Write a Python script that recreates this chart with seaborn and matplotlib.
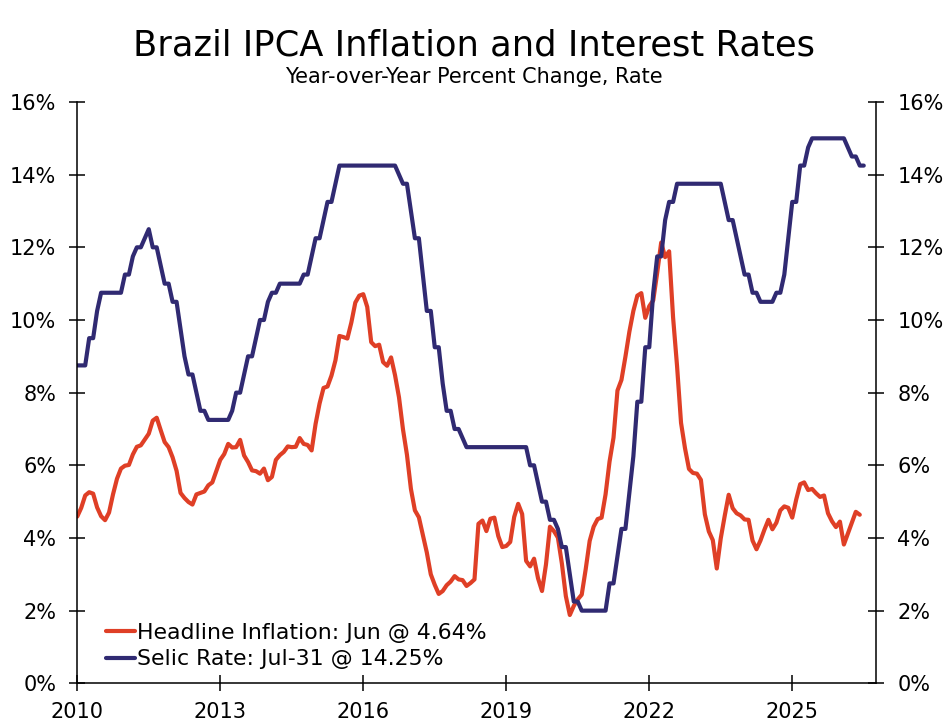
import numpy as np
import pandas as pd
import matplotlib
matplotlib.use("Agg")
import matplotlib.pyplot as plt
from matplotlib.ticker import FuncFormatter
import seaborn as sns

# monthly data, Jan-2010 onwards
START_YEAR = 2010

inflation = [
    4.59, 4.83, 5.17, 5.26, 5.22, 4.84, 4.60, 4.49, 4.70, 5.20, 5.63, 5.91,
    5.99, 6.01, 6.30, 6.51, 6.55, 6.71, 6.87, 7.23, 7.31, 6.97, 6.64, 6.50,
    6.22, 5.85, 5.24, 5.10, 4.99, 4.92, 5.20, 5.24, 5.28, 5.45, 5.53, 5.84,
    6.15, 6.31, 6.59, 6.49, 6.50, 6.70, 6.27, 6.09, 5.86, 5.84, 5.77, 5.91,
    5.59, 5.68, 6.15, 6.28, 6.37, 6.52, 6.50, 6.51, 6.75, 6.59, 6.56, 6.41,
    7.14, 7.70, 8.13, 8.17, 8.47, 8.89, 9.56, 9.53, 9.49, 9.93, 10.48, 10.67,
    10.71, 10.36, 9.39, 9.28, 9.32, 8.84, 8.74, 8.97, 8.48, 7.87, 6.99, 6.29,
    5.35, 4.76, 4.57, 4.08, 3.60, 3.00, 2.71, 2.46, 2.54, 2.70, 2.80, 2.95,
    2.86, 2.84, 2.68, 2.76, 2.86, 4.39, 4.48, 4.19, 4.53, 4.56, 4.05, 3.75,
    3.78, 3.89, 4.58, 4.94, 4.66, 3.37, 3.22, 3.43, 2.89, 2.54, 3.27, 4.31,
    4.19, 4.01, 3.30, 2.40, 1.88, 2.13, 2.31, 2.44, 3.14, 3.92, 4.31, 4.52,
    4.56, 5.20, 6.10, 6.76, 8.06, 8.35, 8.99, 9.68, 10.25, 10.67, 10.74, 10.06,
    10.38, 10.54, 11.30, 12.13, 11.73, 11.89, 10.07, 8.73, 7.17, 6.47, 5.90, 5.79,
    5.77, 5.60, 4.65, 4.18, 3.94, 3.16, 3.99, 4.61, 5.19, 4.82, 4.68, 4.62,
    4.51, 4.50, 3.93, 3.69, 3.93, 4.23, 4.50, 4.24, 4.42, 4.76, 4.87, 4.83,
    4.56, 5.06, 5.48, 5.53, 5.32, 5.35, 5.23, 5.13, 5.17, 4.68, 4.46, 4.30,
    4.45, 3.82, 4.12, 4.42, 4.72, 4.64,
]

selic = [
    8.75, 8.75, 8.75, 9.50, 9.50, 10.25, 10.75, 10.75, 10.75, 10.75, 10.75, 10.75,
    11.25, 11.25, 11.75, 12.00, 12.00, 12.25, 12.50, 12.00, 12.00, 11.50, 11.00, 11.00,
    10.50, 10.50, 9.75, 9.00, 8.50, 8.50, 8.00, 7.50, 7.50, 7.25, 7.25, 7.25,
    7.25, 7.25, 7.25, 7.50, 8.00, 8.00, 8.50, 9.00, 9.00, 9.50, 10.00, 10.00,
    10.50, 10.75, 10.75, 11.00, 11.00, 11.00, 11.00, 11.00, 11.00, 11.25, 11.25, 11.75,
    12.25, 12.25, 12.75, 13.25, 13.25, 13.75, 14.25, 14.25, 14.25, 14.25, 14.25, 14.25,
    14.25, 14.25, 14.25, 14.25, 14.25, 14.25, 14.25, 14.25, 14.25, 14.00, 13.75, 13.75,
    13.00, 12.25, 12.25, 11.25, 10.25, 10.25, 9.25, 9.25, 8.25, 7.50, 7.50, 7.00,
    7.00, 6.75, 6.50, 6.50, 6.50, 6.50, 6.50, 6.50, 6.50, 6.50, 6.50, 6.50,
    6.50, 6.50, 6.50, 6.50, 6.50, 6.50, 6.00, 6.00, 5.50, 5.00, 5.00, 4.50,
    4.50, 4.25, 3.75, 3.75, 3.00, 2.25, 2.25, 2.00, 2.00, 2.00, 2.00, 2.00,
    2.00, 2.00, 2.75, 2.75, 3.50, 4.25, 4.25, 5.25, 6.25, 7.75, 7.75, 9.25,
    9.25, 10.75, 11.75, 11.75, 12.75, 13.25, 13.25, 13.75, 13.75, 13.75, 13.75, 13.75,
    13.75, 13.75, 13.75, 13.75, 13.75, 13.75, 13.75, 13.25, 12.75, 12.75, 12.25, 11.75,
    11.25, 11.25, 10.75, 10.75, 10.50, 10.50, 10.50, 10.50, 10.75, 10.75, 11.25, 12.25,
    13.25, 13.25, 14.25, 14.25, 14.75, 15.00, 15.00, 15.00, 15.00, 15.00, 15.00, 15.00,
    15.00, 15.00, 14.75, 14.50, 14.50, 14.25, 14.25,
]

labels = ["Headline Inflation: Jun @ 4.64%", "Selic Rate: Jul-31 @ 14.25%"]
colors = ["#DF3F26", "#302A72"]
year_ticks = [2010, 2013, 2016, 2019, 2022, 2025]
pct_ticks = [0, 2, 4, 6, 8, 10, 12, 14, 16]


def to_frame(values, name):
    x = START_YEAR + np.arange(len(values)) / 12.0
    return pd.DataFrame({"year": x, "value": values, "series": name})


df = pd.concat([to_frame(inflation, labels[0]), to_frame(selic, labels[1])],
               ignore_index=True)

sns.set_style("ticks")
plt.rcParams["font.family"] = ["DejaVu Sans"]
plt.rcParams["text.color"] = "black"

fig = plt.figure(figsize=(9.48, 7.26), dpi=100)
ax = fig.add_axes([0.0815, 0.0588, 0.8422, 0.8007])

sns.lineplot(data=df, x="year", y="value", hue="series",
             palette=dict(zip(labels, colors)), hue_order=labels,
             linewidth=3.0, ax=ax)

ax.set_xlim(2010, 2026.75)
ax.set_ylim(0, 16)
ax.set_xticks(year_ticks)
ax.set_yticks(pct_ticks)
pct_fmt = FuncFormatter(lambda v, _: f"{v:.0f}%")
ax.yaxis.set_major_formatter(pct_fmt)
ax.set_xlabel("")
ax.set_ylabel("")

ax2 = ax.twinx()
ax2.set_ylim(0, 16)
ax2.set_yticks(pct_ticks)
ax2.yaxis.set_major_formatter(pct_fmt)

for a in (ax, ax2):
    for s in a.spines.values():
        s.set_linewidth(1.1)
        s.set_color("black")
    a.spines["top"].set_visible(False)
ax.spines["right"].set_visible(False)
ax2.spines["left"].set_visible(False)
ax2.spines["bottom"].set_visible(False)

ax.tick_params(axis="both", direction="inout", length=11, width=1.1,
               labelsize=15, colors="black")
ax.tick_params(axis="x", pad=8)
ax.tick_params(axis="y", pad=9.5)
ax2.tick_params(axis="y", direction="inout", length=11, width=1.1,
                labelsize=15, colors="black", pad=10)

handles, _ = ax.get_legend_handles_labels()
ax.legend(handles=handles, labels=labels, loc="lower left",
          bbox_to_anchor=(0.036, 0.024), frameon=False, fontsize=15.8,
          handlelength=1.3, handletextpad=0.1, labelspacing=0.3,
          borderaxespad=0, borderpad=0, labelcolor="black")

fig.text(0.5, 0.924, "Brazil IPCA Inflation and Interest Rates",
         ha="center", va="baseline", fontsize=25.4, color="black")
fig.text(0.5, 0.8853, "Year-over-Year Percent Change, Rate",
         ha="center", va="baseline", fontsize=15, color="black")

fig.savefig("out.png", dpi=100)
